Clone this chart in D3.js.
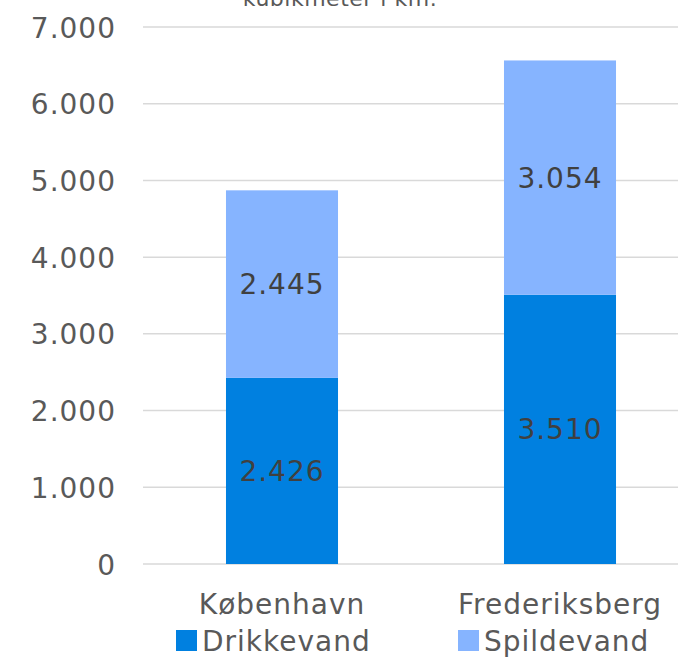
<!DOCTYPE html>
<html><head><meta charset="utf-8">
<script src="https://cdn.jsdelivr.net/npm/d3@7"></script>
<style>body{margin:0;background:#fff}svg{display:block}text{font-family:"DejaVu Sans",sans-serif;letter-spacing:1px}</style>
</head><body><svg id="c" width="678" height="658"></svg>
<script>
const categories = ["København", "Frederiksberg"];
const seriesNames = ["Drikkevand", "Spildevand"];
const drikkevand = [2426, 3510];
const spildevand = [2445, 3054];
const yTicks = [0, 1000, 2000, 3000, 4000, 5000, 6000, 7000];
const colors = ["#0080E0", "#86B4FF"];
const titleText = "kubikmeter i km.";

const FS = 28;
const svg = d3.select("#c");
const fmt = v => d3.format(",")(v).replace(/,/g, ".");
const y = d3.scaleLinear().domain([0, 7000]).range([564, 27]);
const x = d3.scaleBand().domain(categories).range([143, 699]).paddingInner(0.597).paddingOuter(0.2985);

svg.append("text").attr("x", 340).attr("y", 6).attr("text-anchor", "middle")
  .attr("font-size", 22).style("letter-spacing", "0.5px").attr("fill", "#595959").text(titleText);

svg.append("g").selectAll("line").data(yTicks).join("line")
  .attr("x1", 143).attr("x2", 699).attr("y1", d => y(d)).attr("y2", d => y(d))
  .attr("stroke", "#D9D9D9").attr("stroke-width", 1.5);

const yAxis = d3.axisLeft(y).tickValues(yTicks).tickFormat(fmt).tickSize(0).tickPadding(0);
const ga = svg.append("g").attr("transform", "translate(116,0)").call(yAxis);
ga.select(".domain").remove();
ga.selectAll("text").attr("font-size", FS).attr("fill", "#595959").attr("font-family", "DejaVu Sans").attr("dy", "0.36em");

const stackData = categories.map((c, i) => ({cat: c, Drikkevand: drikkevand[i], Spildevand: spildevand[i]}));
const stacked = d3.stack().keys(seriesNames)(stackData);
stacked.forEach((s, si) => {
  const g = svg.append("g");
  g.selectAll("rect").data(s).join("rect")
    .attr("x", d => x(d.data.cat)).attr("width", x.bandwidth())
    .attr("y", d => y(d[1])).attr("height", d => y(d[0]) - y(d[1]))
    .attr("fill", colors[si]);
  g.selectAll("text").data(s).join("text")
    .attr("x", d => x(d.data.cat) + x.bandwidth() / 2)
    .attr("y", d => (y(d[0]) + y(d[1])) / 2).attr("dy", "0.36em")
    .attr("text-anchor", "middle").attr("font-size", FS).attr("fill", "#404040")
    .text(d => fmt(d[1] - d[0]));
});

const xAxis = d3.axisBottom(x).tickSize(0).tickPadding(0);
const gx = svg.append("g").attr("transform", "translate(0,614)").call(xAxis);
gx.select(".domain").remove();
gx.selectAll("text").attr("font-size", FS).attr("fill", "#595959").attr("font-family", "DejaVu Sans").attr("dy", 0);

const legX = [176, 458];
const lg = svg.append("g").selectAll("g").data(seriesNames).join("g")
  .attr("transform", (d, i) => `translate(${legX[i]},630)`);
lg.append("rect").attr("width", 21).attr("height", 21).attr("fill", (d, i) => colors[i]);
lg.append("text").attr("x", 26).attr("y", 21).attr("font-size", FS).attr("fill", "#595959").text(d => d);
</script></body></html>
